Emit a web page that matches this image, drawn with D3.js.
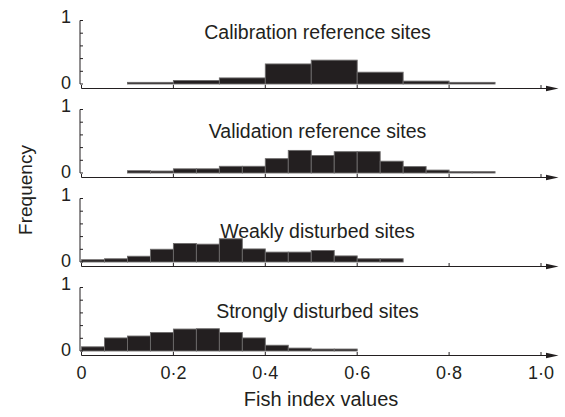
<!DOCTYPE html>
<html>
<head>
<meta charset="utf-8">
<script src="https://cdnjs.cloudflare.com/ajax/libs/d3/7.8.5/d3.min.js"></script>
<style>
  body { margin: 0; background: #fff; }
  svg text { font-family: "Liberation Sans", Arial, Helvetica, sans-serif; fill: #231f20; }
</style>
</head>
<body>
<script>
  // relative frequencies
  var panelTitles = ["Calibration reference sites", "Validation reference sites",
                     "Weakly disturbed sites", "Strongly disturbed sites"];
  var binStarts = [0.1, 0.1, 0, 0];
  var binWidths = [0.1, 0.05, 0.05, 0.05];

  var calibration = [0.01, 0.04, 0.08, 0.30, 0.36, 0.17, 0.03, 0.01];
  var validation = [0.02, 0.015, 0.05, 0.05, 0.09, 0.09, 0.21, 0.34, 0.26, 0.32,
                    0.32, 0.17, 0.085, 0.03, 0.005, 0.005];
  var weakly = [0.02, 0.035, 0.075, 0.185, 0.275, 0.265, 0.35, 0.19, 0.14, 0.14,
                0.165, 0.08, 0.035, 0.035];
  var strongly = [0.05, 0.19, 0.22, 0.275, 0.33, 0.335, 0.275, 0.19, 0.075, 0.03,
                  0.015, 0.015];

  var xTicks = [0, 0.2, 0.4, 0.6, 0.8, 1.0];
  var yTicks = [0, 0.2, 0.4, 0.6, 0.8, 1];
  var yLabels = [0, 1];

  var series = [calibration, validation, weakly, strongly];
  var titleY = [38.5, 137.5, 238.3, 318];

  var width = 565, height = 417;
  var panelTop = 20.5, panelStep = 89, panelH = 63.5, axisGap = 4.5;

  var svg = d3.select("body").append("svg")
      .attr("width", width)
      .attr("height", height);

  var x = d3.scaleLinear().domain([0, 1]).range([81.5, 541]);

  series.forEach(function(vals, i) {
    var top = panelTop + i * panelStep;
    var y = d3.scaleLinear().domain([0, 1]).range([top + panelH, top]);
    var axisY = top + panelH + axisGap;
    var g = svg.append("g");

    var bins = vals.map(function(v, j) {
      var x0 = binStarts[i] + j * binWidths[i];
      return {x0: x0, x1: x0 + binWidths[i], v: v};
    });

    // bars
    g.selectAll("rect")
      .data(bins)
      .enter().append("rect")
      .attr("x", function(d) { return x(d.x0); })
      .attr("y", function(d) { return y(d.v) - 1; })
      .attr("width", function(d) { return x(d.x1) - x(d.x0); })
      .attr("height", function(d) { return y(0) - y(d.v) + 1; })
      .attr("fill", "#231f20")
      .attr("stroke", "#6d6b6b")
      .attr("stroke-width", 0.9);

    // y axis (bracket)
    var ya = g.append("g").attr("transform", "translate(80,0)");
    ya.append("line")
      .attr("x1", 0).attr("x2", 0)
      .attr("y1", y(1)).attr("y2", y(0))
      .attr("stroke", "#231f20");
    ya.selectAll(".ytick")
      .data(yTicks)
      .enter().append("line")
      .attr("x1", 0).attr("x2", 3)
      .attr("y1", function(d) { return y(d); })
      .attr("y2", function(d) { return y(d); })
      .attr("stroke", "#231f20");
    ya.selectAll("text")
      .data(yLabels)
      .enter().append("text")
      .attr("x", -9)
      .attr("y", function(d) { return d === 1 ? y(d) + 2.5 : y(d) + 4.5; })
      .attr("text-anchor", "end")
      .attr("font-size", "18px")
      .text(function(d) { return d; });

    // x axis with arrow
    g.append("line")
      .attr("x1", x(0)).attr("x2", 548)
      .attr("y1", axisY).attr("y2", axisY)
      .attr("stroke", "#231f20");
    g.selectAll(".xtick")
      .data(xTicks)
      .enter().append("line")
      .attr("x1", function(d) { return x(d); })
      .attr("x2", function(d) { return x(d); })
      .attr("y1", axisY).attr("y2", axisY - 3.5)
      .attr("stroke", "#231f20");
    g.append("path")
      .attr("d", "M546," + (axisY - 2.8) + "L558.5," + axisY + "L546," + (axisY + 2.8) + "Z")
      .attr("fill", "#231f20");

    g.append("text")
      .attr("x", 317.5)
      .attr("y", titleY[i])
      .attr("text-anchor", "middle")
      .attr("font-size", "19.5px")
      .text(panelTitles[i]);

    if (i === series.length - 1) {
      g.selectAll(".xlabel")
        .data(xTicks)
        .enter().append("text")
        .attr("x", function(d) { return x(d); })
        .attr("y", axisY + 23.5)
        .attr("text-anchor", "middle")
        .attr("font-size", "18px")
        .text(function(d) { return d === 0 ? "0" : d3.format(".1f")(d).replace(".", "\u00b7"); });
    }
  });

  svg.append("text")
    .attr("transform", "translate(32,190) rotate(-90)")
    .attr("text-anchor", "middle")
    .attr("font-size", "19px")
    .text("Frequency");

  svg.append("text")
    .attr("x", 321)
    .attr("y", 406)
    .attr("text-anchor", "middle")
    .attr("font-size", "20px")
    .text("Fish index values");
</script>
</body>
</html>
